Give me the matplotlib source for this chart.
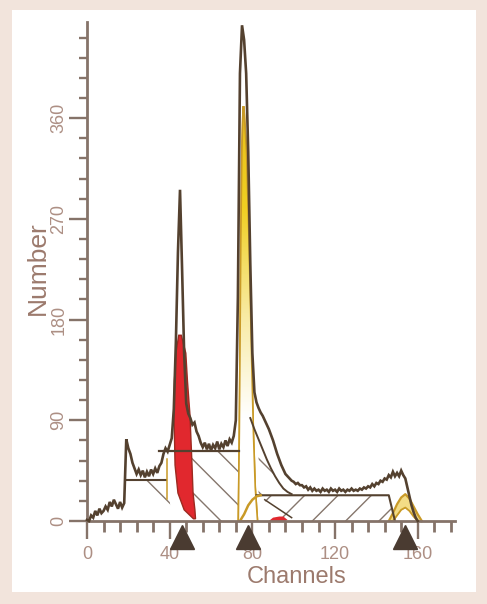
import numpy as np
import matplotlib
matplotlib.use("Agg")
import matplotlib.pyplot as plt
from matplotlib.patches import Polygon, Rectangle
from matplotlib.colors import LinearSegmentedColormap

plt.rcParams["font.family"] = ["Liberation Sans", "DejaVu Sans"]
plt.rcParams["hatch.linewidth"] = 1.0

# ---- measured DNA histogram (counts per channel) ----
channels = list(range(0, 161))
counts = [
    1, 0, 5, 3, 9, 5, 11, 7, 9, 13,            # 0-9 debris
    10, 17, 13, 19, 15, 11, 17, 12, 16, 73,    # 10-19
    65, 60, 52, 47, 42, 46, 41, 45, 39, 44,    # 20-29
    40, 46, 42, 47, 43, 49, 52, 60, 65, 62,    # 30-39
    68, 74, 100, 160, 240, 296, 225, 150, 105, 96,   # 40-49
    92, 86, 88, 80, 76, 70, 66, 70, 64, 69,    # 50-59
    63, 68, 65, 71, 64, 69, 66, 72, 67, 73,    # 60-69
    70, 76, 90, 200, 400, 443, 430, 400, 330, 230,   # 70-79
    150, 115, 106, 101, 97, 94, 90, 86, 82, 77,      # 80-89
    72, 66, 60, 55, 50, 46, 42, 40, 38, 36,    # 90-99
    35, 33, 34, 32, 32, 30, 31, 28, 30, 27,    # 100-109
    29, 27, 28, 26, 29, 27, 28, 26, 29, 27,    # 110-119
    28, 26, 29, 27, 28, 26, 28, 27, 29, 27,    # 120-129
    28, 27, 29, 28, 30, 29, 31, 30, 33, 31,    # 130-139
    34, 33, 36, 35, 38, 37, 41, 39, 44, 40,    # 140-149
    43, 40, 45, 41, 38, 30, 22, 14, 8, 3,      # 150-159
    0,                                         # 160
]

# ---- fitted components ----
# G1 peak of first population (red)
red_levels = [2, 10, 25, 50, 95, 125, 150, 166]
red_left = [51.5, 47.0, 44.0, 42.6, 42.1, 42.3, 43.0, 44.4]
red_right = [52.5, 52.2, 51.3, 50.8, 49.8, 48.6, 47.8, 45.6]

# G1 peak of second population (yellow)
yel_levels = [0, 30, 80, 150, 250, 330, 370]
yel_left = [73.2, 73.4, 73.7, 74.0, 74.4, 74.9, 75.5]
yel_right = [82.5, 81.4, 80.5, 79.6, 78.4, 77.2, 75.9]

# G2 peak of second population
g2_ch = [146, 148, 150, 152, 154, 156, 158, 160, 162]
g2_outer = [0, 7, 15, 21, 24, 20, 13, 6, 0]
g2_inner = [0, 0, 5, 10, 12, 9, 4, 0, 0]

# S-phase / background model levels
debris_level = 37
s1_level = 63
s2_level = 23

# summed fit on the right flank of the second G1 peak
flank_ch = [79, 81, 83, 85, 87, 89, 91, 93, 95, 97, 99]
flank_val = [92, 82, 73, 64, 55, 47, 40, 34, 29, 26, 24]

# rising shoulder of the second population's S phase
shoulder_ch = [74, 76, 78, 80, 82, 84]
shoulder_val = [0, 6, 14, 19, 22, 23]

# G2 of first population (small red blob)
red_g2_ch = [88, 90, 93, 95, 97, 96]
red_g2_val = [0, 3, 4, 4, 1, 0]

# peak position markers
marker_ch = [46, 78, 154]

# axis ticks
y_major = [0, 90, 180, 270, 360]
y_minor = [18, 36, 54, 72, 108, 126, 144, 162, 198, 216, 234, 252,
           288, 306, 324, 342, 378, 396, 414, 432]
x_major = [0, 40, 80, 120, 160]
x_minor = [8, 16, 24, 32, 48, 56, 64, 72, 88, 96, 104, 112,
           128, 136, 144, 152, 168, 176]

# ---- colours ----
BG = "#f2e4dc"
AXIS = "#857369"
TICKLBL = "#ad8f84"
LABEL = "#9c7a6d"
TRACE = "#54412f"
HATCH = "#85766c"
RED = "#e1282e"
GOLD = "#c99a27"
MARK = "#4a3b31"

fig = plt.figure(figsize=(4.87, 6.04), dpi=100)
fig.patch.set_facecolor(BG)
fig.patches.append(Rectangle((12 / 487, 12 / 604), 464 / 487, 582 / 604,
                             transform=fig.transFigure, facecolor="white",
                             edgecolor="none", zorder=-5))

ax = fig.add_axes([0, 0, 1, 1])
ax.set_facecolor("none")

# hatched model regions
ax.add_patch(Polygon([(20, debris_level), (39, debris_level), (41, 0)],
                     closed=True, facecolor="none", edgecolor=HATCH,
                     hatch="\\", lw=0, zorder=2))
ax.add_patch(Polygon([(46, s1_level), (73.5, s1_level), (73.5, 0), (51, 0)],
                     closed=True, facecolor="none", edgecolor=HATCH,
                     hatch="\\", lw=0, zorder=2))
ax.add_patch(Polygon([(83, s2_level), (146, s2_level), (149, 0), (97, 0)],
                     closed=True, facecolor="none", edgecolor=HATCH,
                     hatch="/", lw=0, zorder=2))
flank_poly = [(c, v) for c, v in zip(flank_ch, flank_val) if c >= 83]
flank_poly = flank_poly + [(97, s2_level), (83, s2_level)]
ax.add_patch(Polygon(flank_poly, closed=True, facecolor="none",
                     edgecolor=HATCH, hatch="\\", lw=0, zorder=2))

# red G1 component
red_pts = list(zip(red_left, red_levels)) + list(zip(red_right[::-1], red_levels[::-1]))
ax.add_patch(Polygon(red_pts, closed=True, facecolor=RED,
                     edgecolor="#9c2a20", lw=1.0, zorder=3))
ax.add_patch(Polygon(list(zip(red_g2_ch, red_g2_val)), closed=True,
                     facecolor=RED, edgecolor="none", zorder=3))

# yellow G1 component with a white-to-yellow body
yel_pts = list(zip(yel_left, yel_levels)) + list(zip(yel_right[::-1], yel_levels[::-1]))
yel_patch = Polygon(yel_pts, closed=True, facecolor="white",
                    edgecolor=GOLD, lw=1.2, zorder=3)
ax.add_patch(yel_patch)
shade = np.linspace(0, 1, 256).reshape(-1, 1)
ycmap = LinearSegmentedColormap.from_list(
    "yel", ["#ffffff", "#ffffff", "#f8eaa0", "#f0cf22", "#e8c01a"])
im = ax.imshow(shade, extent=[72, 84, 0, 372], origin="lower", cmap=ycmap,
               aspect="auto", zorder=3.1, interpolation="bilinear")
im.set_clip_path(yel_patch)
ax.add_patch(Polygon(yel_pts, closed=True, facecolor="none",
                     edgecolor=GOLD, lw=1.2, zorder=3.2))

# yellow G2 component
ax.fill_between(g2_ch, g2_inner, g2_outer, color="#f3dc86", lw=0, zorder=3)
ax.plot(g2_ch, g2_outer, color=GOLD, lw=1.6, zorder=3.3)
ax.plot(g2_ch, g2_inner, color=GOLD, lw=1.3, zorder=3.3)

# model outlines
ax.plot([19, 38], [debris_level, debris_level], color=TRACE, lw=1.5, zorder=4)
ax.plot([35, 73.5], [s1_level, s1_level], color=TRACE, lw=1.6, zorder=4)
ax.plot([82, 146, 149], [s2_level, s2_level, 0], color=TRACE, lw=1.5, zorder=4)
ax.plot([86, 99], [19, 3], color=TRACE, lw=1.1, zorder=4)
ax.plot(flank_ch, flank_val, color=TRACE, lw=1.4, zorder=4)
ax.plot(shoulder_ch, shoulder_val, color=GOLD, lw=1.8, zorder=4)
ax.plot([38.5, 38.5], [20, 55], color=GOLD, lw=1.1, zorder=4)

# measured histogram trace
ax.plot(channels, counts, color=TRACE, lw=1.9, zorder=5,
        solid_joinstyle="miter")

# peak position markers below the axis
ax.plot(marker_ch, [-14.5] * len(marker_ch), linestyle="none", marker="^",
        markersize=17, color=MARK, zorder=6, clip_on=False)

# axes
ax.set_xlim(-87 / 2.067, (487 - 87) / 2.067)
ax.set_ylim((521 - 604) / 1.119, 521 / 1.119)
for side in ("top", "right"):
    ax.spines[side].set_visible(False)
ax.spines["left"].set_position(("data", 0))
ax.spines["bottom"].set_position(("data", 0))
ax.spines["left"].set_bounds(0, 446)
ax.spines["bottom"].set_bounds(0, 178)
for side in ("left", "bottom"):
    ax.spines[side].set_color(AXIS)
    ax.spines[side].set_linewidth(2.0)
    ax.spines[side].set_zorder(4.5)

ax.set_yticks(y_major)
ax.set_yticks(y_minor, minor=True)
ax.set_xticks(x_major)
ax.set_xticks(x_minor, minor=True)
ax.set_yticklabels([str(v) for v in y_major])
ax.set_xticklabels([str(v) for v in x_major])
ax.tick_params(axis="y", which="major", direction="out", length=13, width=1.7,
               color=AXIS, labelcolor=TICKLBL, labelsize=13, pad=1,
               labelrotation=90)
ax.tick_params(axis="y", which="minor", direction="out", length=6, width=1.7,
               color=AXIS)
ax.tick_params(axis="x", which="major", direction="out", length=13, width=1.7,
               color=AXIS, labelcolor=TICKLBL, labelsize=13, pad=5)
ax.tick_params(axis="x", which="minor", direction="out", length=8, width=2.0,
               color=AXIS)
for lbl in ax.get_yticklabels():
    lbl.set_verticalalignment("center")

fig.text(297 / 487, 1 - 577 / 604, "Channels", color=LABEL, fontsize=17,
         ha="center", va="center")
fig.text(37.5 / 487, 1 - 268 / 604, "Number", color=LABEL, fontsize=19,
         ha="center", va="center", rotation=90)

fig.savefig("out.png", dpi=100, facecolor=BG)
